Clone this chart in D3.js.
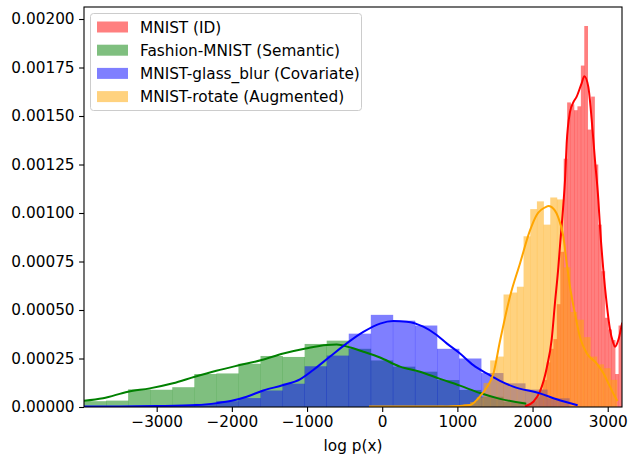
<!DOCTYPE html>
<html><head><meta charset="utf-8">
<script src="https://cdn.jsdelivr.net/npm/d3@7"></script>
<style>body{margin:0;background:#fff}svg{display:block}text{font-family:"DejaVu Sans",sans-serif}</style>
</head><body>
<script>
// ---- data ----
const seriesNames = ["MNIST (ID)", "Fashion-MNIST (Semantic)", "MNIST-glass_blur (Covariate)", "MNIST-rotate (Augmented)"];
const seriesColors = ["red", "green", "blue", "orange"];
const xTicks = [-3000, -2000, -1000, 0, 1000, 2000, 3000];
const yTicks = [0, 0.00025, 0.0005, 0.00075, 0.001, 0.00125, 0.0015, 0.00175, 0.002];
const xDomain = [-3967, 3190];
const yMax = 0.0020619;

// histograms: first bin start, bin width, densities
const redStart = 1913, redWidth = 45.6;
const redHist = [1.5e-5,2e-5,3e-5,5e-5,9e-5,1.4e-4,2.3e-4,3.0e-4,3.5e-4,5.3e-4,8.0e-4,1.28e-3,1.57e-3,1.56e-3,1.53e-3,1.55e-3,1.76e-3,1.964e-3,1.43e-3,1.6e-3,1.25e-3,9.4e-4,7.0e-4,4.6e-4,4.0e-4,3.45e-4,1.7e-4,4.2e-4];
const greenStart = -3967, greenWidth = 293.5;
const greenHist = [3.0e-5,3.3e-5,9.1e-5,8.9e-5,1.02e-4,1.70e-4,1.73e-4,2.23e-4,2.63e-4,2.58e-4,3.25e-4,3.42e-4,3.0e-4,2.4e-4,2.08e-4,1.82e-4,1.39e-4,8.8e-5,5.3e-5,2.7e-5];
const blueStart = -3967, blueWidth = 293.5;
const blueHist = [3e-6,3e-6,5e-6,6e-6,1.0e-5,1.6e-5,3.0e-5,4.6e-5,8.5e-5,1.2e-4,2.1e-4,2.65e-4,3.78e-4,4.75e-4,4.45e-4,4.2e-4,3.0e-4,2.5e-4,1.75e-4,1.22e-4,9.0e-5,4.5e-5];
const orangeStart = -162, orangeWidth = 88.8;
const orangeHist = [4e-6,2e-6,3e-6,2e-6,3e-6,4e-6,2e-6,3e-6,5e-6,4e-6,6e-6,5e-6,8e-6,1.0e-5,1.4e-5,2.6e-5,5e-5,1.24e-4,2.4e-4,2.6e-4,5.8e-4,5.9e-4,6.2e-4,8.8e-4,1.02e-3,1.06e-3,9.4e-4,1.08e-3,1.07e-3,7.2e-4,4.9e-4,4.5e-4,3.6e-4,2.6e-4,2.2e-4,2.0e-4,1.4e-4];

// KDE curves: x positions and densities
const redKdeX = [1913,2010,2099,2188,2255,2299,2343,2365,2409,2432,2454,2498,2542,2587,2654,2689,2742,2787,2831,2875,2897,2941,2987,3030,3074,3097,3141,3190];
const redKdeY = [5e-6,2.7e-5,8e-5,2.0e-4,3.5e-4,5.4e-4,7.2e-4,8.3e-4,1.04e-3,1.17e-3,1.36e-3,1.52e-3,1.57e-3,1.6e-3,1.67e-3,1.705e-3,1.65e-3,1.48e-3,1.27e-3,1.07e-3,9.3e-4,7.1e-4,5.3e-4,4.0e-4,3.3e-4,3.1e-4,3.45e-4,4.3e-4];
const greenKdeX = [-3967,-3714,-3382,-3093,-2783,-2494,-2207,-1896,-1603,-1316,-1018,-738,-605,-438,-251,-29,237,503,769,1035,1301,1567,1903];
const greenKdeY = [3.2e-5,4.5e-5,7.9e-5,9.6e-5,1.22e-4,1.56e-4,1.87e-4,2.16e-4,2.42e-4,2.76e-4,3.02e-4,3.2e-4,3.22e-4,3.08e-4,2.85e-4,2.55e-4,2.08e-4,1.82e-4,1.45e-4,1.1e-4,7.2e-5,4.2e-5,1.8e-5];
const blueKdeX = [-3967,-3500,-3000,-2468,-2200,-2002,-1803,-1582,-1316,-1094,-917,-694,-472,-251,-29,148,326,547,725,858,1035,1212,1390,1567,1744,2099,2321,2587];
const blueKdeY = [2e-6,3e-6,5e-6,1.0e-5,2.0e-5,3.2e-5,5.3e-5,8.5e-5,1.13e-4,1.43e-4,1.91e-4,2.6e-4,3.28e-4,3.87e-4,4.3e-4,4.43e-4,4.4e-4,4.14e-4,3.71e-4,3.28e-4,2.76e-4,2.16e-4,1.73e-4,1.35e-4,1.05e-4,7.0e-5,4.0e-5,1.0e-5];
const orangeKdeX = [-162,500,870,1168,1301,1390,1478,1567,1700,1833,1966,2055,2188,2210,2255,2339,2409,2455,2498,2565,2631,2721,2853,2941,3030,3097,3124];
const orangeKdeY = [2e-6,2e-6,3e-6,1.0e-5,5.5e-5,1.0e-4,1.7e-4,3.4e-4,5.7e-4,7.4e-4,9.1e-4,9.9e-4,1.033e-3,1.036e-3,1.03e-3,9.8e-4,8.8e-4,7.4e-4,6.2e-4,4.8e-4,3.6e-4,2.77e-4,2.25e-4,1.75e-4,1.05e-4,5.3e-5,3.5e-5];

// ---- drawing ----
const W = 633, H = 455;
const L = 84, R = 622, T = 7, B = 407;
const FS = 15.3;
const svg = d3.select("body").append("svg").attr("width", W).attr("height", H);
const x = d3.scaleLinear().domain(xDomain).range([L, R]);
const y = d3.scaleLinear().domain([0, yMax]).range([B, T]);

svg.append("clipPath").attr("id", "c").append("rect")
  .attr("x", L).attr("y", T).attr("width", R - L).attr("height", B - T);
const plot = svg.append("g").attr("clip-path", "url(#c)");

const hists = [
  {start: redStart, width: redWidth, vals: redHist},
  {start: greenStart, width: greenWidth, vals: greenHist},
  {start: blueStart, width: blueWidth, vals: blueHist},
  {start: orangeStart, width: orangeWidth, vals: orangeHist}
];
hists.forEach((h, i) => {
  plot.append("g").selectAll("rect").data(h.vals).join("rect")
    .attr("x", (d, k) => x(h.start + k * h.width))
    .attr("width", (d, k) => x(h.start + (k + 1) * h.width) - x(h.start + k * h.width) + 0.3)
    .attr("y", d => y(d))
    .attr("height", d => B - y(d))
    .attr("fill", seriesColors[i]).attr("fill-opacity", 0.5);
});

const kdes = [[redKdeX, redKdeY], [greenKdeX, greenKdeY], [blueKdeX, blueKdeY], [orangeKdeX, orangeKdeY]];
const line = d3.line().x(d => x(d[0])).y(d => y(d[1])).curve(d3.curveMonotoneX);
kdes.forEach((k, i) => {
  plot.append("path").datum(k[0].map((v, j) => [v, k[1][j]]))
    .attr("d", line).attr("fill", "none").attr("stroke", seriesColors[i])
    .attr("stroke-width", 2).attr("stroke-linejoin", "round").attr("stroke-linecap", "square");
});

// axes
const xAxis = d3.axisBottom(x).tickValues(xTicks).tickFormat(d3.format("d")).tickSize(4.9).tickPadding(4.5);
const yAxis = d3.axisLeft(y).tickValues(yTicks).tickFormat(d3.format(".5f")).tickSize(4.9).tickPadding(4.5);
const gx = svg.append("g").attr("transform", `translate(0,${B})`).call(xAxis);
const gy = svg.append("g").attr("transform", `translate(${L},0)`).call(yAxis);
[gx, gy].forEach(g => {
  g.select(".domain").remove();
  g.selectAll("line").attr("stroke", "#000").attr("stroke-width", 1.1);
  g.selectAll("text").attr("font-size", FS).attr("fill", "#000").style("font-family", '"DejaVu Sans"');
});
svg.append("rect").attr("x", L).attr("y", T).attr("width", R - L).attr("height", B - T)
  .attr("fill", "none").attr("stroke", "#000").attr("stroke-width", 1.1);

svg.append("text").attr("x", (L + R) / 2).attr("y", 451).attr("text-anchor", "middle")
  .attr("font-size", FS).text("log p(x)");

// legend
const lg = svg.append("g");
lg.append("rect").attr("x", 90.5).attr("y", 13.5).attr("width", 271).attr("height", 97).attr("rx", 3)
  .attr("fill", "#fff").attr("fill-opacity", 0.8).attr("stroke", "#cccccc").attr("stroke-width", 1);
seriesNames.forEach((n, i) => {
  const cy = 27 + i * 23.2;
  lg.append("rect").attr("x", 97).attr("y", cy - 5.5).attr("width", 31).attr("height", 11)
    .attr("fill", seriesColors[i]).attr("fill-opacity", 0.5);
  lg.append("text").attr("x", 140).attr("y", cy + 5.5).attr("font-size", FS).text(n);
});
</script>
</body></html>
